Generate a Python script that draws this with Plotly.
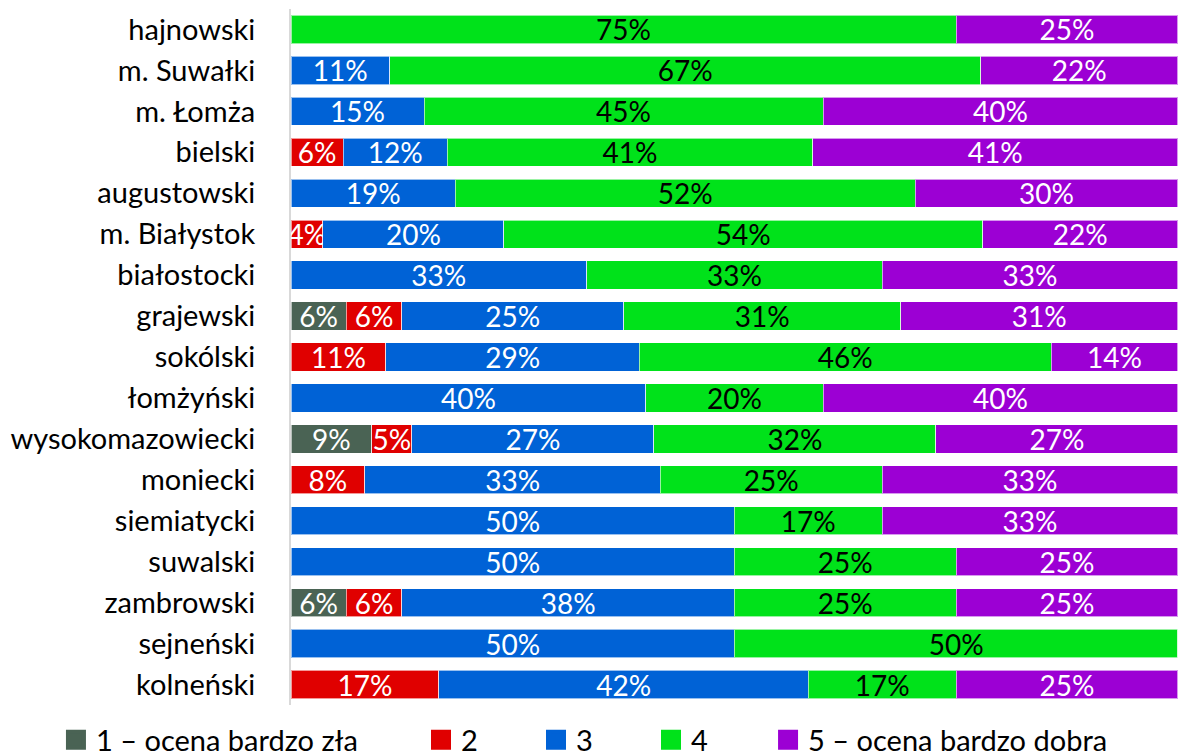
import plotly.graph_objects as go

powiaty = ["hajnowski", "m. Suwałki", "m. Łomża", "bielski", "augustowski", "m. Białystok",
           "białostocki", "grajewski", "sokólski", "łomżyński", "wysokomazowiecki", "moniecki",
           "siemiatycki", "suwalski", "zambrowski", "sejneński", "kolneński"]

ocena_1 = [0, 0, 0, 0, 0, 0, 0, 6.25, 0, 0, 9.09, 0, 0, 0, 6.25, 0, 0]
ocena_2 = [0, 0, 0, 5.88, 0, 3.6, 0, 6.25, 10.71, 0, 4.55, 8.33, 0, 0, 6.25, 0, 16.67]
ocena_3 = [0, 11.11, 15, 11.76, 18.52, 20.4, 33.33, 25, 28.57, 40, 27.27, 33.33, 50, 50, 37.5, 50, 41.67]
ocena_4 = [75, 66.67, 45, 41.18, 51.85, 54, 33.33, 31.25, 46.43, 20, 31.82, 25, 16.67, 25, 25, 50, 16.67]
ocena_5 = [25, 22.22, 40, 41.18, 29.63, 22, 33.33, 31.25, 14.29, 40, 27.27, 33.33, 33.33, 25, 25, 0, 25]

serie = [
    ("1 – ocena bardzo zła", ocena_1, "#4a6354", "white", "legend"),
    ("2", ocena_2, "#e00000", "white", "legend2"),
    ("3", ocena_3, "#0062d6", "white", "legend2"),
    ("4", ocena_4, "#00e21a", "black", "legend2"),
    ("5 – ocena bardzo dobra", ocena_5, "#9c00d4", "white", "legend3"),
]

FONT = "Lato, 'Open Sans', sans-serif"
SIZE = 28

fig = go.Figure()
for name, vals, color, txtcolor, leg in serie:
    fig.add_trace(go.Bar(
        y=powiaty, x=vals, name=name, orientation="h",
        marker=dict(color=color, line=dict(color="rgba(255,255,255,0.6)", width=1)),
        text=[f"{v:.0f}%" if v else "" for v in vals],
        textposition="inside", insidetextanchor="middle", textangle=0,
        constraintext="none", cliponaxis=False,
        insidetextfont=dict(color=txtcolor, size=SIZE, family=FONT),
        showlegend=False, legendgroup=name, hoverinfo="x+y+name",
    ))

# legend entries with bigger square swatches than the bar default
for name, vals, color, txtcolor, leg in serie:
    fig.add_trace(go.Scatter(
        x=[None], y=[None], mode="markers", name=name, legend=leg, legendgroup=name,
        marker=dict(symbol="square", size=16, color=color, line=dict(color=color, width=4)),
        showlegend=True,
    ))

legend_common = dict(orientation="h", xref="container", yref="container", y=0.0175,
                     xanchor="left", yanchor="middle", traceorder="normal",
                     font=dict(size=29), bgcolor="rgba(0,0,0,0)")

fig.update_layout(
    barmode="stack",
    bargap=0.31,
    width=1178, height=753,
    margin=dict(l=291, r=0, t=9, b=48, autoexpand=False),
    paper_bgcolor="white", plot_bgcolor="white",
    font=dict(family=FONT, size=SIZE, color="black"),
    showlegend=True,
    uniformtext=dict(minsize=SIZE, mode="show"),
    # a hair past 100 so rounded rows summing to 100.01 keep their labels
    xaxis=dict(range=[0, 100.02], showgrid=False, showticklabels=False, zeroline=False,
               showline=False, fixedrange=True),
    yaxis=dict(autorange="reversed", showline=True, linecolor="#d9d9d9", linewidth=2,
               ticks="", ticklabelstandoff=28, automargin=False,
               tickfont=dict(size=29, color="black")),
    legend=dict(legend_common, x=0.0475),
    legend2=dict(legend_common, x=0.3574, entrywidth=70, entrywidthmode="pixels"),
    legend3=dict(legend_common, x=0.652),
)

# drop the default 8px body margin so the fixed-size figure fills the window
fig.write_html(
    "out.html",
    config={"displayModeBar": False, "responsive": False},
    post_script="document.body.style.margin='0';",
)
